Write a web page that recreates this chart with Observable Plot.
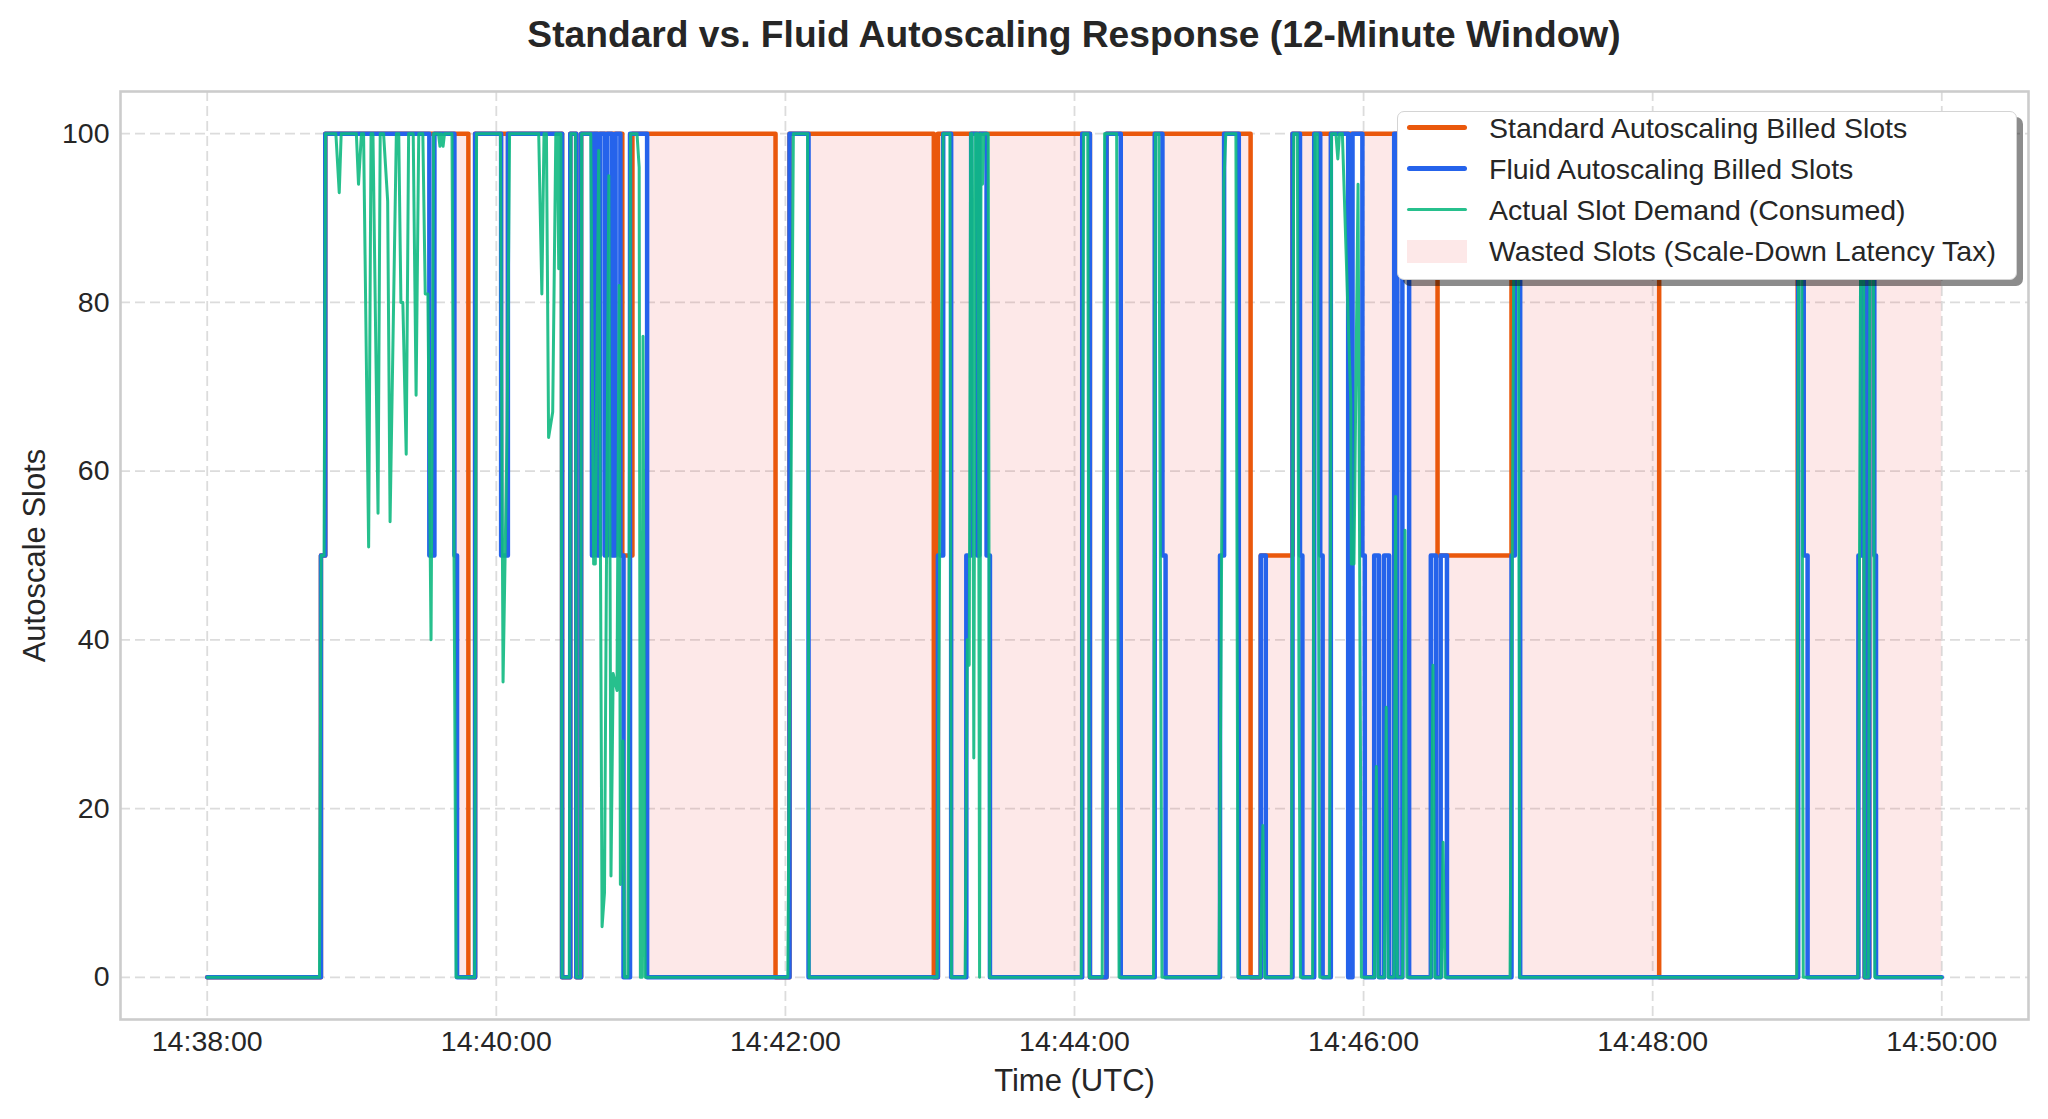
<!DOCTYPE html>
<html>
<head>
<meta charset="utf-8">
<script src="https://cdn.jsdelivr.net/npm/d3@7"></script>
<script src="https://cdn.jsdelivr.net/npm/@observablehq/plot@0.6"></script>
<style>
html, body { margin: 0; padding: 0; background: #fff; }
#wrap { position: relative; width: 2048px; height: 1119px; overflow: hidden;
  font-family: "Liberation Sans", Arial, Helvetica, sans-serif; color: #262626; background: #fff; }
#title { position: absolute; left: 120px; width: 1908px; top: 16px; text-align: center;
  font-weight: bold; font-size: 37.2px; line-height: 1; white-space: nowrap; }
#chart { position: absolute; left: 0; top: 80px; }
#legend { position: absolute; left: 1397px; top: 111px; width: 620px; height: 169px; background: #fff;
  border: 1.5px solid #d4d4d4; border-radius: 7px; box-shadow: 6px 6px 0 rgba(0,0,0,0.45); box-sizing: border-box; z-index: 5; }
.sw { position: absolute; left: 9px; width: 60px; }
.lt { position: absolute; left: 91px; font-size: 28.5px; line-height: 1; white-space: nowrap; transform: translateY(-50%); }
</style>
</head>
<body>
<div id="wrap">
  <div id="title"></div>
  <div id="chart"></div>
  <div id="legend"></div>
</div>
<script>
// ---- data (seconds after 14:38:00 UTC) ----
const titleText = "Standard vs. Fluid Autoscaling Response (12-Minute Window)";
const xLabel = "Time (UTC)";
const yLabel = "Autoscale Slots";
const xTickLabels = ["14:38:00", "14:40:00", "14:42:00", "14:44:00", "14:46:00", "14:48:00", "14:50:00"];
const yTicks = [0, 20, 40, 60, 80, 100];
const seriesNames = ["Standard Autoscaling Billed Slots", "Fluid Autoscaling Billed Slots", "Actual Slot Demand (Consumed)", "Wasted Slots (Scale-Down Latency Tax)"];

// step (post) change points [second, slots]
const standardSteps = [[0,0],[47.2,50],[49,100],[108.4,0],[111.2,100],[147.3,0],[150.7,100],[153.2,0],[155.2,100],[172.3,50],[176.5,100],[235.9,0],[241.7,100],[301.6,0],[303.3,100],[366.4,0],[373.3,100],[433.1,0],[437.3,50],[450.5,100],[510.7,50],[541.4,100],[602.7,0],[660.2,100],[688,0],[689.9,100],[720,100]];

const fluidSteps = [[0,0],[47.2,50],[49,100],[92.2,50],[94.3,100],[102.6,50],[103.7,0],[111.2,100],[122,50],[124.8,100],[147.3,0],[150.7,100],[153.2,0],[155.2,100],[159.7,50],[160.5,100],[162,50],[163,100],[165,50],[166,100],[168,50],[169.5,100],[171.5,50],[172.8,0],[175.5,100],[182.6,0],[241.7,100],[249.6,0],[303.3,50],[305.5,100],[308.8,0],[315.1,50],[317.1,100],[319.6,50],[320.5,100],[323.5,50],[324.9,0],[363.2,100],[366.4,0],[373.3,100],[379.2,0],[393.3,100],[396.5,50],[397.8,0],[420.4,50],[422.1,100],[428.2,0],[437.3,50],[439.4,0],[450.5,100],[453.6,50],[454.6,0],[459.5,100],[462,50],[463,0],[466.4,100],[473.6,0],[475.4,100],[479.5,50],[480.5,0],[484.4,50],[486.4,0],[488.5,50],[490.6,0],[492.7,100],[494,0],[496.1,100],[498.9,0],[507.9,50],[510,0],[512,50],[514.6,0],[541.4,50],[542.8,100],[545,0],[660.4,100],[662.7,50],[664.3,0],[685.4,50],[686.6,100],[688,0],[689.9,100],[692,50],[692.7,0],[720,0]];

// demand samples [second, slots] (drawn as a plain line)
const demandPoints = [[0,0],[46.6,0],[47.3,50],[48.5,50],[49.1,100],
[53.4,100],[54.8,93],[55.6,100],[61.9,100],[62.8,94],[64,100],
[64.9,100],[67,51],[68,100],[68.8,100],[70.9,55],[71.8,100],
[73.2,100],[74.9,92],[75.9,54],[78.5,100],[79.5,100],[80.4,80],[81.2,80],[82.6,62],[83.6,100],
[85.5,100],[86.7,69],[87.8,100],[89.5,100],[90.5,81],[91.6,81],[92.9,40],[94,100],
[96,100],[96.6,98.5],[97.2,100],[97.9,98.5],[98.5,100],[101.6,100],[103.3,0],
[111,0],[111.8,100],[121.7,100],[122.8,35],[124.5,65],[125.5,100],
[137.6,100],[138.9,81],[139.8,100],[140.8,100],[141.7,64],[143.4,67],[144.7,100],
[145.4,100],[145.9,84],[146.3,100],[146.8,100],[147.3,0],[150.3,0],[150.9,100],[152.8,100],[153.3,0],[154.9,0],[155.4,100],
[159.2,100],[160.4,49],[161.1,49],[162.5,98],[163.9,6],[164.9,10],[166.7,95],[167.6,12],[168.5,36],[170.1,34],[171,82],[171.5,11],[172.6,28],[173.2,0],[174.6,0],[175.7,100],[178.4,100],[179.3,96],[179.8,0],[180.5,0],[180.9,76],[181.8,0],
[241,0],[243.3,100],[249.2,100],[249.8,0],
[303,0],[304,50],[305.5,100],[308.3,100],[308.9,0],
[314.6,0],[315.5,40],[316.3,37],[316.9,100],[317.5,100],[318.2,26],[318.9,100],[320,100],[320.6,0],[321.2,100],[321.8,94],[322.4,100],[324.2,100],[324.8,0],
[362.8,0],[363.8,100],[365.5,100],[366.2,0],
[371.5,0],[372.5,100],[377.5,100],[378.5,0],
[392.8,0],[393.6,100],[395,100],[396.3,0],
[420,0],[422,94],[422.8,100],[427,100],[427.9,0],
[437.2,0],[438.2,18],[439,0],
[450,0],[451,100],[452.5,100],[453.2,33],[453.8,0],
[458.8,0],[459.8,100],[460.8,100],[461.8,0],
[465.8,0],[466.7,100],[468.5,100],[469.3,97],[470,100],[471.2,100],[474.7,68],[474.9,49],[476,49],[477.7,94],[479.1,0],
[484.5,0],[485.3,25],[486,0],[488.6,0],[489.4,32],[490.2,0],
[492.6,0],[493.3,57],[494,0],[496.2,0],[497.2,53],[498,0],
[508,0],[508.8,37],[509.6,0],[512.2,0],[513,16],[513.8,0],
[540.8,0],[542.6,100],[544.2,100],[544.8,0],
[659.8,0],[660.7,100],[661.8,100],[662.5,0],
[685.2,0],[686.5,100],[687.5,100],[688,0],
[689.5,0],[690.3,100],[691.5,100],[692.2,0],[720,0]];

const colors = { standard: "#ea580c", fluid: "#2563eb", demand: "#10b981", waste: "#ef4444" };

// ---- helpers ----
const T0 = Date.UTC(2024, 0, 1, 14, 38, 0);
const at = s => new Date(T0 + s * 1000);
const parseTick = str => { const [h, m, s] = str.split(":").map(Number); return new Date(Date.UTC(2024, 0, 1, h, m, s)); };
const xTicks = xTickLabels.map(parseTick);
function stepValue(steps, t) { let v = steps[0][1]; for (const [s, val] of steps) { if (s <= t) v = val; else break; } return v; }
const gridT = Array.from(new Set([...standardSteps.map(d => d[0]), ...fluidSteps.map(d => d[0])])).sort((a, b) => a - b);
const wasted = gridT.map(t => { const s = stepValue(standardSteps, t), f = stepValue(fluidSteps, t); return { t: at(t), y1: f, y2: Math.max(s, f) }; });

document.getElementById("title").textContent = titleText;

const font = '"Liberation Sans", Arial, Helvetica, sans-serif';
const plot = Plot.plot({
  width: 2048,
  height: 1039,
  marginLeft: 120, marginRight: 20, marginTop: 11, marginBottom: 100,
  style: { fontFamily: font, color: "#262626", background: "#fff", overflow: "visible" },
  x: { type: "utc", domain: [at(-36), at(756)], axis: null },
  y: { domain: [-5, 105], axis: null },
  marks: [
    Plot.gridX(xTicks, { stroke: "#dcdcdc", strokeOpacity: 1, strokeWidth: 1.8, strokeDasharray: "10,5" }),
    Plot.gridY(yTicks, { stroke: "#dcdcdc", strokeOpacity: 1, strokeWidth: 1.8, strokeDasharray: "10,5" }),
    Plot.areaY(wasted, { x: "t", y1: "y1", y2: "y2", curve: "step-after", fill: colors.waste, fillOpacity: 0.12 }),
    Plot.line(standardSteps, { x: d => at(d[0]), y: d => d[1], curve: "step-after", stroke: colors.standard, strokeWidth: 4.5, strokeLinejoin: "round", strokeLinecap: "round" }),
    Plot.line(fluidSteps, { x: d => at(d[0]), y: d => d[1], curve: "step-after", stroke: colors.fluid, strokeWidth: 4.5, strokeLinejoin: "round", strokeLinecap: "round" }),
    Plot.line(demandPoints, { x: d => at(d[0]), y: d => d[1], stroke: colors.demand, strokeOpacity: 0.9, strokeWidth: 3, strokeLinejoin: "round", strokeLinecap: "round" }),
    Plot.frame({ stroke: "#cccccc", strokeWidth: 2.6 }),
    Plot.axisX(xTicks, { tickSize: 0, tickPadding: 11, tickFormat: d3.utcFormat("%H:%M:%S"), fontSize: 28.5, label: null }),
    Plot.axisY(yTicks, { tickSize: 0, tickPadding: 11, fontSize: 28.5, label: null }),
    Plot.text([xLabel], { text: d => d, frameAnchor: "bottom", dy: 62, lineAnchor: "middle", fontSize: 31, fill: "#262626" }),
    Plot.text([yLabel], { text: d => d, frameAnchor: "left", dx: -85, rotate: -90, lineAnchor: "middle", textAnchor: "middle", fontSize: 31, fill: "#262626" })
  ]
});
document.getElementById("chart").appendChild(plot);

// ---- legend ----
const legend = document.getElementById("legend");
const rowCenters = [17.3, 58, 99, 140.7];
const handles = [
  { color: colors.standard, h: 5, op: 1, r: 2.5 },
  { color: colors.fluid, h: 5, op: 1, r: 2.5 },
  { color: colors.demand, h: 3.4, op: 0.9, r: 1.7 },
  { color: colors.waste, h: 23, op: 0.12, r: 0 }
];
seriesNames.forEach((name, i) => {
  const c = rowCenters[i] - 1.5;
  const sw = document.createElement("div");
  sw.className = "sw";
  sw.style.top = (c - handles[i].h / 2) + "px";
  sw.style.height = handles[i].h + "px";
  sw.style.background = handles[i].color;
  sw.style.opacity = handles[i].op;
  sw.style.borderRadius = handles[i].r + "px";
  legend.appendChild(sw);
  const t = document.createElement("div");
  t.className = "lt";
  t.style.top = c + "px";
  t.textContent = name;
  legend.appendChild(t);
});
</script>
</body>
</html>
